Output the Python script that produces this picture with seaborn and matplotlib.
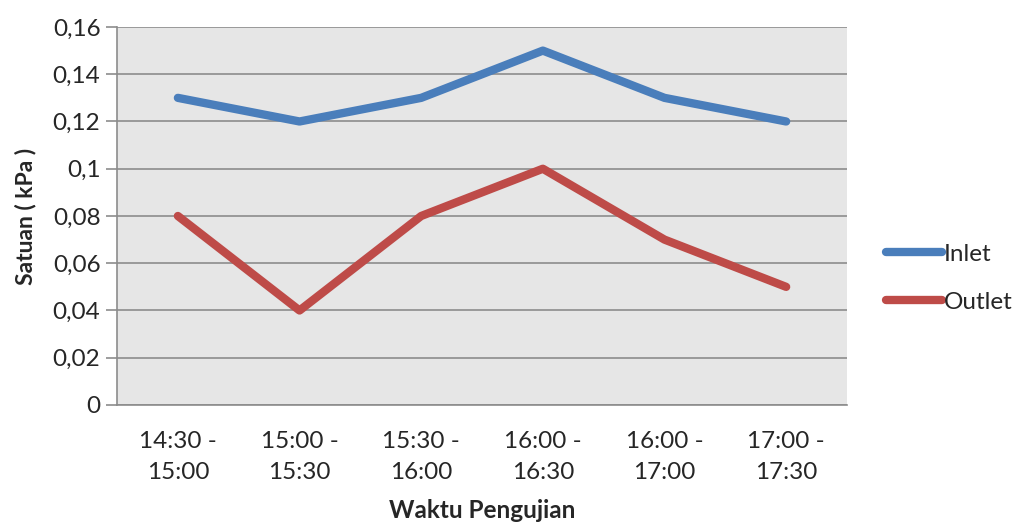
import matplotlib
matplotlib.use("Agg")
import matplotlib.pyplot as plt
import seaborn as sns
import pandas as pd
from matplotlib.ticker import FuncFormatter, MultipleLocator
from matplotlib.lines import Line2D

# Pressure readings per test window
waktu = ["14:30 -\n15:00", "15:00 -\n15:30", "15:30 -\n16:00",
         "16:00 -\n16:30", "16:00 -\n17:00", "17:00 -\n17:30"]
inlet = [0.13, 0.12, 0.13, 0.15, 0.13, 0.12]
outlet = [0.08, 0.04, 0.08, 0.10, 0.07, 0.05]

df = pd.DataFrame({
    "pos": list(range(len(waktu))) * 2,
    "nilai": inlet + outlet,
    "seri": ["Inlet"] * len(waktu) + ["Outlet"] * len(waktu),
})

sns.set_theme(style="white")
plt.rcParams["font.family"] = ["Lato", "DejaVu Sans"]

fig = plt.figure(figsize=(10.18, 5.25), dpi=100)
ax = fig.add_axes([0.115, 0.2286, 0.717, 0.72])
ax.set_facecolor("#e6e6e6")

sns.lineplot(data=df, x="pos", y="nilai", hue="seri",
             palette={"Inlet": "#4a7ebb", "Outlet": "#be4b48"},
             linewidth=6.0, ax=ax, solid_capstyle="round", legend=False)

ax.set_xlim(-0.5, len(waktu) - 0.5)
ax.set_ylim(0, 0.16)
ax.yaxis.set_major_locator(MultipleLocator(0.02))
ax.yaxis.set_major_formatter(FuncFormatter(
    lambda v, _: "0" if abs(v) < 1e-9 else f"{v:.2f}".rstrip("0").replace(".", ",")))
ax.set_xticks(range(len(waktu)))
ax.set_xticklabels(waktu, linespacing=1.55)

ax.grid(axis="y", color="#8c8c8c", linewidth=1.2)
ax.set_axisbelow(True)
for side in ["top", "right"]:
    ax.spines[side].set_visible(False)
for side in ["left", "bottom"]:
    ax.spines[side].set_color("#8c8c8c")
    ax.spines[side].set_linewidth(1.2)

ax.tick_params(axis="y", which="major", direction="out", length=8,
               width=1.2, color="#8c8c8c", labelsize=17.5, pad=4, left=True)
ax.tick_params(axis="x", which="major", length=0, labelsize=17.5, pad=19)

ax.set_ylabel("Satuan ( kPa )", fontsize=16.5, fontweight="bold", labelpad=12)
ax.set_xlabel("Waktu Pengujian", fontsize=17.5, fontweight="bold", labelpad=12)

# Legend entries on the right
handles = [Line2D([], [], color="#4a7ebb", lw=6.0, solid_capstyle="round"),
           Line2D([], [], color="#be4b48", lw=6.0, solid_capstyle="round")]
fig.legend(handles, ["Inlet", "Outlet"], loc="center left",
           bbox_to_anchor=(0.870, 0.47), frameon=False, fontsize=17.5,
           handlelength=2.3, handletextpad=0.1, labelspacing=1.12,
           borderaxespad=0, borderpad=0)

fig.savefig("out.png", dpi=100)
